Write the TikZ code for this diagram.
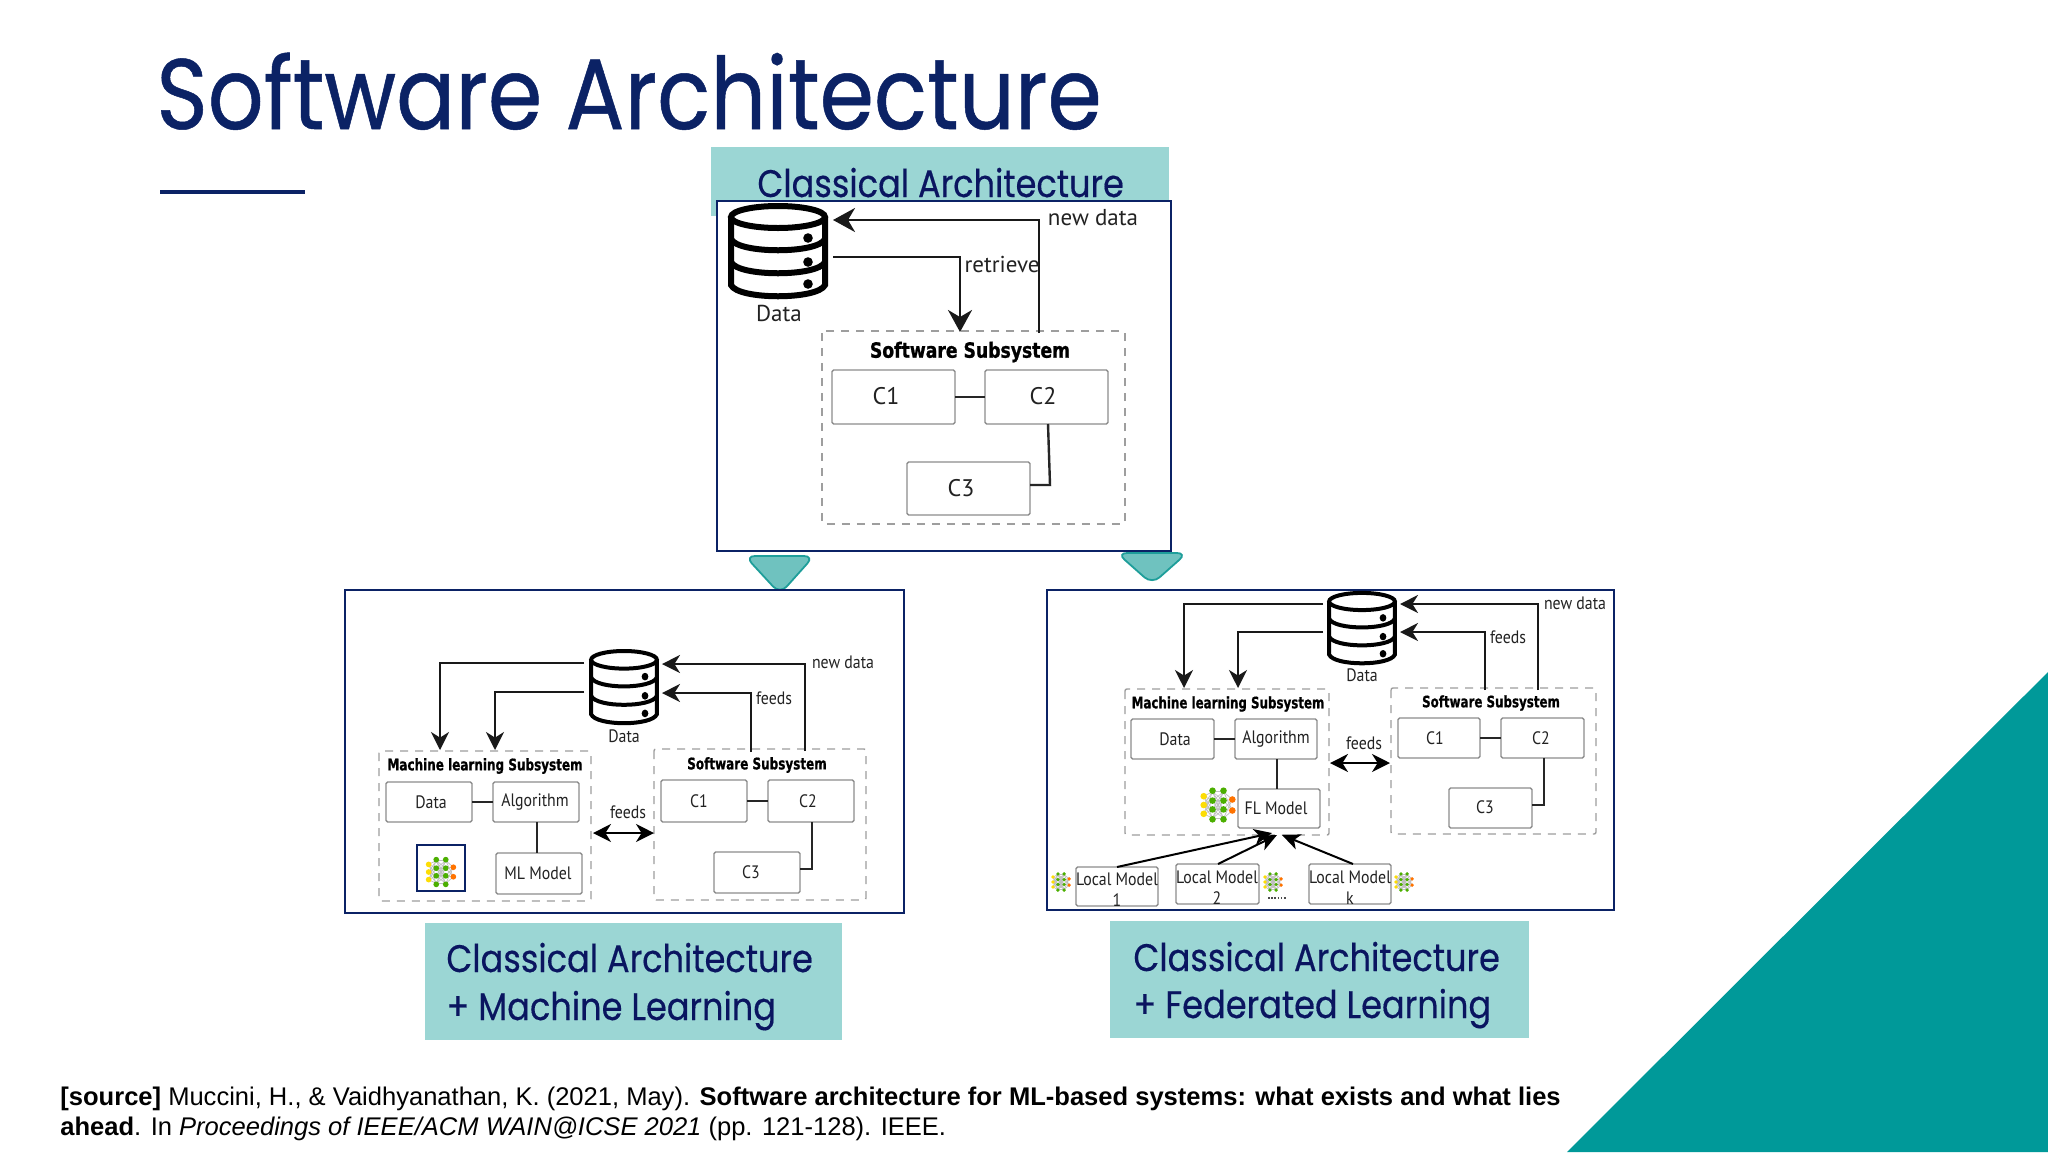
\documentclass[tikz,border=0pt]{standalone}
\usepackage{fontspec}
\usetikzlibrary{arrows.meta}
\setmainfont{Liberation Sans}
\newfontfamily\titlefont[FakeStretch=0.875,FakeBold=0.5]{Poppins}
\newfontfamily\labelfont[FakeStretch=0.875,FakeBold=0.4]{Poppins}
\newfontfamily\figfont{PT Sans}
\newfontfamily\figsfont[FakeStretch=0.88]{PT Sans}
\newfontfamily\headfont[FakeStretch=0.82,FakeBold=1]{DejaVu Sans}
\newfontfamily\headsfont[FakeStretch=0.75,FakeBold=0.8]{DejaVu Sans}
\definecolor{navy}{HTML}{0B2265}
\definecolor{ink}{HTML}{0A1560}
\definecolor{lbl}{HTML}{9BD6D4}
\definecolor{teal}{HTML}{009999}
\definecolor{trifill}{HTML}{6FC2BF}
\definecolor{tridraw}{HTML}{1E9E9A}
\definecolor{boxgray}{HTML}{8C8C8C}
\definecolor{dashgray}{HTML}{9E9E9E}
\definecolor{figtext}{HTML}{222222}
\tikzset{
  frame/.style={draw=navy,line width=1.25pt,fill=white},
  lblbox/.style={fill=lbl,draw=none},
  comp/.style={draw=boxgray,line width=.7pt,rounded corners=.8pt,fill=white,inner sep=0pt,outer sep=0pt},
  dashbox/.style={draw=dashgray,line width=.7pt,dash pattern=on 4pt off 3.5pt,rounded corners=1pt},
  lnk/.style={draw=black!85,line width=.9pt},
  arrbig/.style={draw=black!90,line width=1.3pt,-{Stealth[length=11pt,width=12pt,inset=3.5pt]}},
  arrsm/.style={draw=black!90,line width=1pt,-{Stealth[length=9pt,width=9pt,inset=2.8pt]}},
  arrdbl/.style={draw=black,line width=1pt,{Stealth[length=9pt,width=9pt,inset=2.8pt]}-{Stealth[length=9pt,width=9pt,inset=2.8pt]}},
  arrfl/.style={draw=black,line width=1pt,-{Stealth[length=9pt,width=8pt,inset=2.5pt]}},
  figl/.style={font=\figfont\fontsize{#1}{#1}\selectfont,text=figtext,inner sep=0pt},
  figs/.style={font=\figsfont\fontsize{#1}{#1}\selectfont,text=figtext,inner sep=0pt},
  headl/.style={font=\headfont\bfseries\fontsize{#1}{#1}\selectfont,text=black,inner sep=0pt},
  heads/.style={font=\headsfont\bfseries\fontsize{#1}{#1}\selectfont,text=black,inner sep=0pt},
  lblt/.style={font=\labelfont\fontsize{19.2}{19.2}\selectfont,text=ink,inner sep=0pt,anchor=base west},
  tri/.style={draw=tridraw,fill=trifill,line width=.9pt,rounded corners=5pt},
  src/.style={font=\fontsize{12.77}{12.77}\selectfont,text=black,inner sep=0pt,anchor=base west},
}
% name, x0,y0,x1,y1 , text x, text y, text style, text
\newcommand{\compbox}[9]{%
  \node[comp,minimum width={(#4-#2)*0.5pt},minimum height={(#5-#3)*0.5pt}] (#1) at ({(#2+#4)/2},{(#3+#5)/2}) {};
  \node[#8] (#1t) at (#6,#7) {#9};
}
% centre x, centre y, x scale, y scale, line width
\newcommand{\dbicon}[5]{%
  \begin{scope}[shift={(#1,#2)},xscale=#3,yscale=#4,line width=#5,draw=black]
    \draw (0,-34) ellipse [x radius=47,y radius=11];
    \draw (-47,-34) -- (-47,34) .. controls (-40,49) and (40,49) .. (47,34) -- (47,-34);
    \draw (-47,-12) .. controls (-40,3) and (40,3) .. (47,-12);
    \draw (-47,11) .. controls (-40,26) and (40,26) .. (47,11);
    \fill (30,-13) ellipse [x radius=4.8,y radius=4.8];
    \fill (30,11) ellipse [x radius=4.8,y radius=4.8];
    \fill (30,33) ellipse [x radius=4.8,y radius=4.8];
  \end{scope}
}
% centre x, centre y, scale : small network picture
\newcommand{\nnicon}[3]{%
  \begin{scope}[shift={(#1,#2)},scale=#3]
    \foreach \a/\b in {-13/-8,-13/0,-13/8}{\foreach \c in {-12,-4,4,12}{\draw[black!25,line width=.35pt] (\a,\b) -- (-5,\c);}}
    \foreach \c in {-12,-4,4,12}{\foreach \d in {-12,-4,4,12}{\draw[black!25,line width=.35pt] (-5,\c) -- (5,\d);}}
    \foreach \c in {-12,-4,4,12}{\foreach \d in {-5,5}{\draw[black!25,line width=.35pt] (5,\c) -- (13,\d);}}
    \foreach \b in {-8,0,8}{\fill[yellow!80!orange] (-13,\b) circle [radius=3];}
    \foreach \c in {-13,-4,4,13}{\fill[green!55!black!70!yellow] (-5,\c) circle [radius=3];\fill[green!55!black!70!yellow] (5,\c) circle [radius=3];}
    \foreach \b in {-5,5}{\fill[orange!90!red] (13,\b) circle [radius=3];}
  \end{scope}
}
\begin{document}
\begin{tikzpicture}[x=0.5pt,y=-0.5pt]
\useasboundingbox[fill=white] (0,0) rectangle (2048,1152);
% corner
\fill[teal] (2048,672) -- (2048,1152) -- (1567,1152) -- cycle;
% title
\node[font=\titlefont\fontsize{50}{50}\selectfont,text=navy,inner sep=0pt,anchor=base west] (title) at (156,129) {Software Architecture};
\draw[navy,line width=2pt] (160,192) -- (305,192);
% ---------- top panel
\fill[lblbox] (711,147) rectangle (1169,216);
\node[lblt] (toplabel) at (757,197) {Classical Architecture};
\draw[frame] (717,201) rectangle (1171,551);
\dbicon{778}{251}{1}{1}{3pt}
\node[figl=11.5] (tdata) at (779,313) {Data};
\draw[dashbox] (822,331) rectangle (1125,524);
\node[headl=10.5] (ttitle) at (970,352) {Software Subsystem};
\compbox{ta}{832}{370}{955}{424}{886}{396}{figl=12}{C1}
\compbox{tb}{985}{370}{1108}{424}{1043}{396}{figl=12}{C2}
\compbox{tc}{907}{462}{1030}{515}{961}{488}{figl=12}{C3}
\draw[lnk,line width=1.1pt] (ta.east) -- (tb.west);
\coordinate (tcb) at (1048,424);
\coordinate (tcm) at (1050,485);
\coordinate (tce) at (1030,485);
\draw[lnk,line width=1.2pt] (tcb) -- (tcm) -- (tce);
\coordinate (tdbn) at (833,220);
\coordinate (tdbr) at (833,257);
\coordinate (tswo) at (1039,333);
\coordinate (tswi) at (960,332);
\draw[arrbig] (tswo) |- (tdbn);
\draw[arrbig] (tdbr) -| (tswi);
\node[figl=11.5] (tnew) at (1093,218) {new data};
\node[figl=11.5] (tret) at (1002,264) {retrieve};
% triangles
\draw[tri] (745,556) -- (814,556) -- (780,594) -- cycle;
\draw[tri] (1117,553) -- (1187,553) -- (1152,584) -- cycle;
% ---------- ML panel
\draw[frame] (345,590) rectangle (904,913);
\dbicon{624}{687}{0.7}{0.8}{2pt}
\node[figs=9] (mdata) at (624,736) {Data};
\draw[dashbox] (379,751) rectangle (591,901);
\node[heads=8] (mtitle) at (485,766) {Machine learning Subsystem};
\compbox{md}{386}{782}{472}{822}{431}{802}{figs=9}{Data}
\compbox{ma}{493}{782}{579}{822}{535}{802}{figs=9}{Algorithm}
\compbox{mm}{496}{853}{582}{894}{538}{873}{figs=9}{ML Model}
\draw[lnk] (md.east) -- (ma.west);
\coordinate (mat) at (537,822);
\coordinate (mmt) at (537,853);
\draw[lnk] (mat) -- (mmt);
\node[draw=navy,line width=1pt,minimum width=24pt,minimum height=23pt,inner sep=0pt] (mic) at (441,868) {};
\nnicon{441}{872}{0.95}
\draw[dashbox] (654,749) rectangle (866,900);
\node[heads=8] (mtitle2) at (757,765) {Software Subsystem};
\compbox{ms1}{661}{780}{747}{822}{699}{801}{figs=9}{C1}
\compbox{ms2}{768}{780}{854}{822}{808}{801}{figs=9}{C2}
\compbox{ms3}{714}{852}{800}{893}{751}{872}{figs=9}{C3}
\draw[lnk] (ms1.east) -- (ms2.west);
\coordinate (mc2b) at (812,822);
\coordinate (mc2m) at (812,869);
\coordinate (mc3e) at (800,869);
\draw[lnk] (mc2b) -- (mc2m) -- (mc3e);
\coordinate (mdb1) at (584,663);
\coordinate (mdb2) at (584,692);
\coordinate (mml1) at (440,750);
\coordinate (mml2) at (495,750);
\draw[arrsm] (mdb1) -| (mml1);
\draw[arrsm] (mdb2) -| (mml2);
\coordinate (mdr1) at (662,664);
\coordinate (mdr2) at (662,693);
\coordinate (msw1) at (805,751);
\coordinate (msw2) at (751,752);
\draw[arrsm] (msw1) |- (mdr1);
\draw[arrsm] (msw2) |- (mdr2);
\node[figs=9] (mnew) at (843,662) {new data};
\node[figs=9] (mfeed) at (774,698) {feeds};
\node[figs=9] (mfeed2) at (628,812) {feeds};
\coordinate (mfa) at (593,833);
\coordinate (mfb) at (654,833);
\draw[arrdbl] (mfa) -- (mfb);
% ---------- FL panel
\draw[frame] (1047,590) rectangle (1614,910);
\dbicon{1362}{628}{0.7}{0.78}{2pt}
\node[figs=9] (fdata) at (1362,675) {Data};
\draw[dashbox] (1125,689) rectangle (1329,835);
\node[heads=7.9] (ftitle) at (1228,704) {Machine learning Subsystem};
\compbox{fd}{1131}{719}{1214}{759}{1175}{739}{figs=9}{Data}
\compbox{fa}{1235}{719}{1317}{759}{1276}{739}{figs=9}{Algorithm}
\compbox{fm}{1238}{789}{1320}{828}{1276}{808}{figs=9}{FL Model}
\draw[lnk] (fd.east) -- (fa.west);
\coordinate (fat) at (1277,759);
\coordinate (fmt) at (1277,789);
\draw[lnk] (fat) -- (fmt);
\nnicon{1218}{805}{1.1}
\draw[dashbox] (1391,688) rectangle (1596,834);
\node[heads=7.9] (ftitle2) at (1491,703) {Software Subsystem};
\compbox{fs1}{1398}{718}{1480}{758}{1435}{738}{figs=9}{C1}
\compbox{fs2}{1501}{718}{1584}{758}{1541}{738}{figs=9}{C2}
\compbox{fs3}{1449}{788}{1532}{828}{1485}{807}{figs=9}{C3}
\draw[lnk] (fs1.east) -- (fs2.west);
\coordinate (fc2b) at (1544,758);
\coordinate (fc2m) at (1544,805);
\coordinate (fc3e) at (1532,805);
\draw[lnk] (fc2b) -- (fc2m) -- (fc3e);
\coordinate (fdb1) at (1323,604);
\coordinate (fdb2) at (1323,632);
\coordinate (fml1) at (1184,688);
\coordinate (fml2) at (1238,688);
\draw[arrsm] (fdb1) -| (fml1);
\draw[arrsm] (fdb2) -| (fml2);
\coordinate (fdr1) at (1400,604);
\coordinate (fdr2) at (1400,632);
\coordinate (fsw1) at (1538,690);
\coordinate (fsw2) at (1485,690);
\draw[arrsm] (fsw1) |- (fdr1);
\draw[arrsm] (fsw2) |- (fdr2);
\node[figs=9] (fnew) at (1575,603) {new data};
\node[figs=9] (ffeed) at (1508,637) {feeds};
\node[figs=9] (ffeed2) at (1364,743) {feeds};
\coordinate (ffa) at (1330,763);
\coordinate (ffb) at (1390,763);
\draw[arrdbl] (ffa) -- (ffb);
% local models
\compbox{l1}{1076}{867}{1158}{906}{1117}{879}{figs=9}{Local Model}
\node[figs=9] (l1n) at (1117,900) {1};
\compbox{l2}{1176}{864}{1259}{904}{1217}{877}{figs=9}{Local Model}
\node[figs=9] (l2n) at (1217,898) {2};
\compbox{l3}{1309}{864}{1391}{904}{1350}{877}{figs=9}{Local Model}
\node[figs=9] (l3n) at (1350,898) {k};
\nnicon{1061}{882}{0.62}
\nnicon{1273}{882}{0.62}
\nnicon{1404}{882}{0.62}
\draw[black!70,line width=1pt,dash pattern=on .8pt off .8pt] (1268,898) -- (1287,898);
\coordinate (fm1) at (1272,833);
\coordinate (fm2) at (1277,835);
\coordinate (fm3) at (1282,835);
\coordinate (lt1) at (1117,867);
\coordinate (lt2) at (1218,864);
\coordinate (lt3) at (1353,864);
\draw[arrfl] (lt1) -- (fm1);
\draw[arrfl] (lt2) -- (fm2);
\draw[arrfl] (lt3) -- (fm3);
% labels
\fill[lblbox] (425,923) rectangle (842,1040);
\node[lblt] (ml1) at (446,972) {Classical Architecture};
\node[lblt] (ml2) at (446,1020) {+ Machine Learning};
\fill[lblbox] (1110,921) rectangle (1529,1038);
\node[lblt] (fl1) at (1133,971) {Classical Architecture};
\node[lblt] (fl2) at (1133,1018) {+ Federated Learning};
% source
\node[src] (s1) at (60,1105) {\textbf{[source]} Muccini, H., \& Vaidhyanathan, K. (2021, May). \textbf{Software architecture for ML-based systems: what exists and what lies}};
\node[src] (s2) at (60,1135) {\textbf{ahead}. In \textit{Proceedings of IEEE/ACM WAIN@ICSE 2021} (pp. 121-128). IEEE.};
\end{tikzpicture}
\end{document}
